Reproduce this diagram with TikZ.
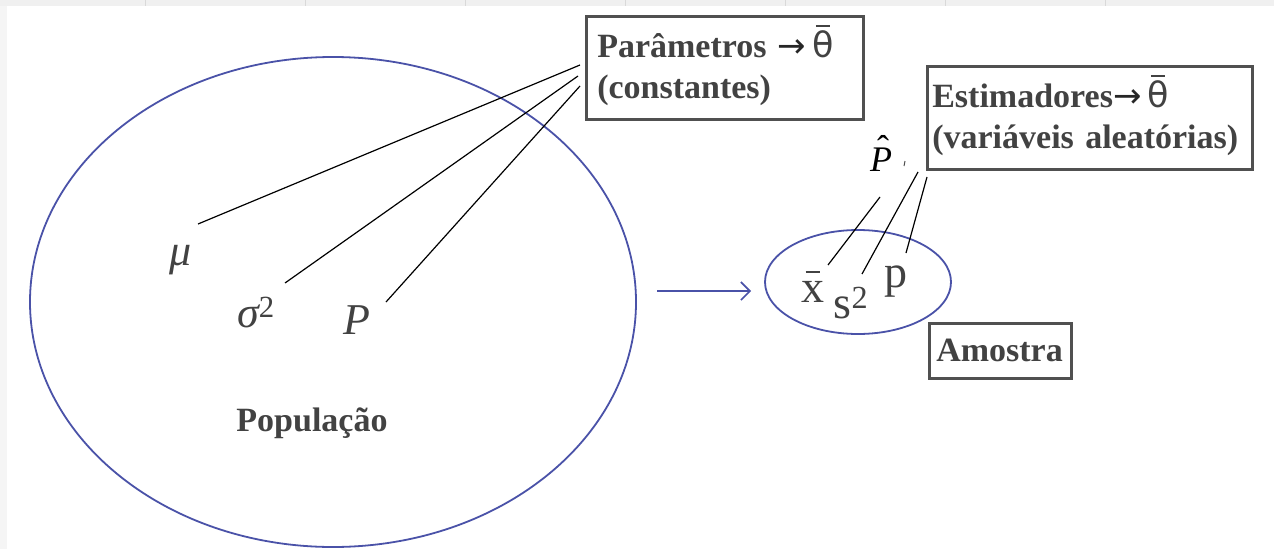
\documentclass[tikz,border=0pt]{standalone}
\usepackage{fontspec}
\setmainfont{Liberation Serif}
\newfontfamily\dejavu{DejaVu Sans}
\usetikzlibrary{shapes.geometric,arrows.meta}
\definecolor{txt}{RGB}{66,66,66}
\definecolor{ell}{RGB}{74,82,168}
\definecolor{bx}{RGB}{80,80,80}
\newcommand{\arr}{{\dejavu\mdseries\color{black!85}→}}
\newcommand{\thb}{\mbox{\dejavu\mdseries\fontsize{35}{41}\selectfont\ooalign{θ\cr\hidewidth\raisebox{0.86em}{\rule{0.4em}{0.05em}}\hidewidth\cr}}}
\newcommand{\xbr}{\ooalign{x\cr\hidewidth\raisebox{0.62em}{\rule{0.32em}{0.045em}}\hidewidth\cr}}
\newcommand{\phat}{\ooalign{\itshape P\cr\hidewidth\kern0.12em\raisebox{0.28em}{ˆ}\hidewidth\cr}}
\begin{document}
\begin{tikzpicture}[x=1pt,y=-1pt,
  boxn/.style={draw=bx, line width=2.6pt, rectangle, anchor=north west, align=left,
    font=\fontsize{34}{41}\selectfont\bfseries, text=txt, inner ysep=4pt},
  ellp/.style={draw=ell, line width=1.8pt, ellipse, inner sep=0pt},
  mlab/.style={font=\fontsize{44}{46}\selectfont\itshape, text=txt, inner sep=0pt},
  slab/.style={font=\fontsize{46}{48}\selectfont, text=txt, inner sep=0pt},
  conn/.style={black, line width=1.2pt}]
\useasboundingbox (0,0) rectangle (1274,549);
% top strip (spreadsheet header remains)
\fill[black!6] (0,0) rectangle (1274,6);
\foreach \gx in {145,305,465,625,785,945,1105} \draw[black!15, line width=0.8pt] (\gx,0) -- (\gx,6);
\fill[black!4] (0,6) rectangle (7,549);
% ellipses
\node[ellp, minimum width=606pt, minimum height=490pt] (pop) at (333,302) {};
\node[ellp, minimum width=186pt, minimum height=104pt] (amo) at (858,282) {};
\coordinate (arS) at (657,291);
\coordinate (arE) at (751,291);
\draw[ell, line width=1.6pt, -{Straight Barb[length=9pt,width=18pt]}] (arS) -- (arE);
% boxes
\node[boxn, inner xsep=11pt, text width=255pt, minimum height=103pt] (par) at (585,15)
  {Parâmetros \arr\,\thb\\(constantes)};
\node[boxn, inner xsep=5pt, text width=315pt, minimum height=103pt] (est) at (926,65)
  {Estimadores\arr\,\thb\\(variáveis aleatórias)};
\node[boxn, inner xsep=7pt, text width=128pt, minimum height=55pt] (amb) at (928,322)
  {Amostra};
% population labels
\node[mlab, anchor=base] (mu) at (181,265) {μ};
\node[mlab, anchor=base] (sig) at (256,327) {σ\textsuperscript{\upshape 2}};
\node[mlab, anchor=base] (pp) at (357,334) {P};
\node[font=\fontsize{34}{38}\selectfont\bfseries, text=txt] (popl) at (312,423) {População};
% sample labels
\node[slab, anchor=base] (xb) at (813,302) {\xbr};
\node[slab, anchor=base] (s2) at (851,318) {s\textsuperscript{2}};
\node[slab, anchor=base] (p) at (896,287) {p};
\node[font=\fontsize{36}{40}\selectfont, inner sep=0pt, anchor=base] (ph) at (881,171) {\phat};
\draw[black!70, line width=1pt] (905,161) -- (904,166);
% connectors from parameters
\coordinate (pa1) at (580,65);
\coordinate (pa2) at (578,76);
\coordinate (pa3) at (580,86);
\coordinate (mue) at (198,224);
\coordinate (sige) at (285,283);
\coordinate (ppe) at (386,302);
\draw[conn] (pa1) -- (mue);
\draw[conn] (pa2) -- (sige);
\draw[conn] (pa3) -- (ppe);
% connectors from estimators
\coordinate (e1) at (880,197);
\coordinate (e2) at (918,172);
\coordinate (e3) at (927,177);
\coordinate (xe) at (828,265);
\coordinate (se) at (862,274);
\coordinate (pe) at (906,253);
\draw[conn] (e1) -- (xe);
\draw[conn] (e2) -- (se);
\draw[conn] (e3) -- (pe);
\end{tikzpicture}
\end{document}
